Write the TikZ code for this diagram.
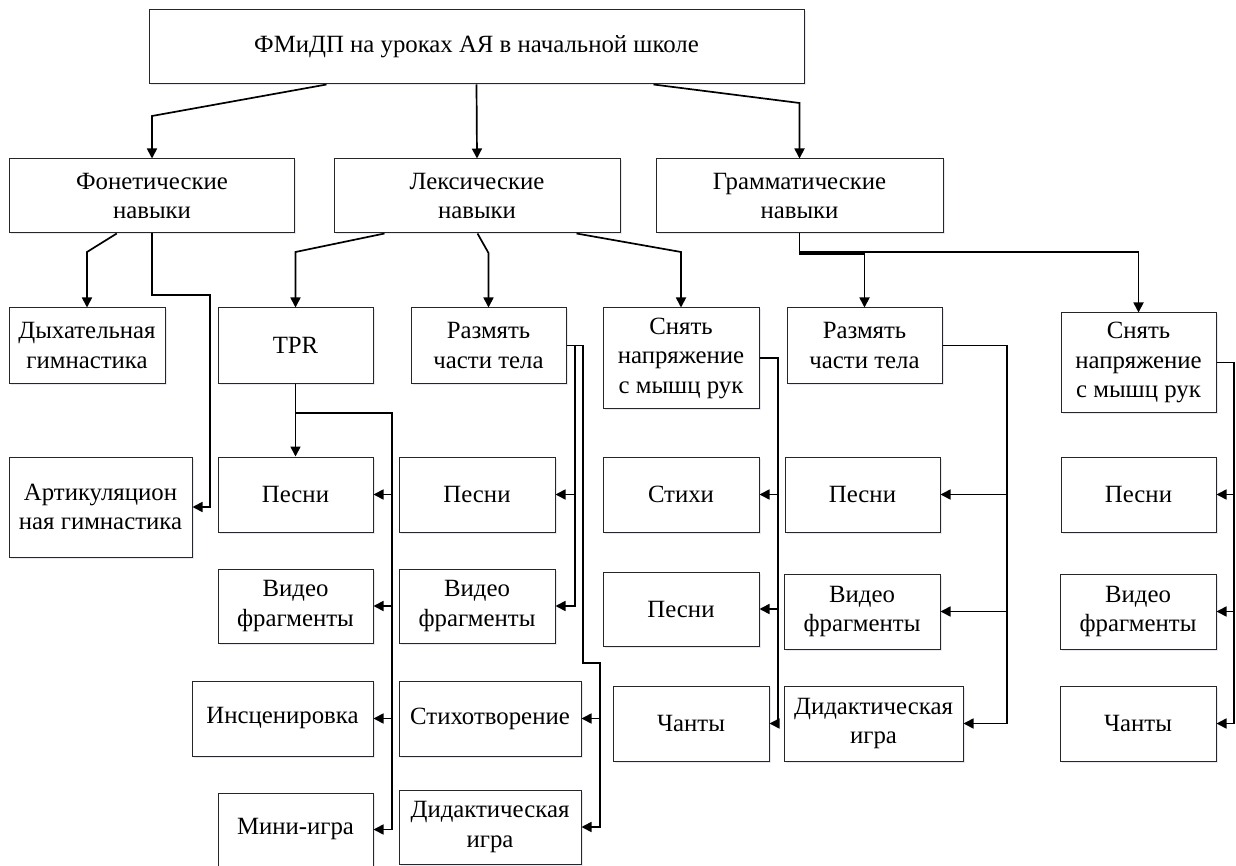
\documentclass[tikz,border=0pt]{standalone}
\usepackage{fontspec}
\setmainfont{Liberation Serif}
\usetikzlibrary{arrows.meta,shadows}
\tikzset{
  box/.style={draw=black!85, line width=1pt, align=center, inner sep=0pt, fill=white,
    font=\fontsize{24.8}{29.5}\selectfont, minimum height=74pt, minimum width=155pt,
    drop shadow={shadow xshift=1.5pt, shadow yshift=-1.5pt, opacity=0.12, fill=blue!40!gray}},
  arr/.style={draw=black, line width=1.7pt, -{Triangle[length=10pt,width=10pt]}},
  ln/.style={draw=black, line width=1.7pt}
}
\begin{document}
\begin{tikzpicture}[x=1pt,y=-1pt]
\useasboundingbox (0,0) rectangle (1236,866);
% level 0
\node[box, minimum width=655pt] (top) at (476.5,47) {ФМиДП на уроках АЯ в начальной школе};
% level 1
\node[box, minimum width=285.5pt] (fon) at (152,196) {Фонетические\\навыки};
\node[box, minimum width=286pt] (lex) at (477,196) {Лексические\\навыки};
\node[box, minimum width=287pt] (gram) at (799.5,196) {Грамматические\\навыки};
% level 2
\node[box, minimum width=156pt, minimum height=75pt] (dyh) at (87,345.5) {Дыхательная\\гимнастика};
\node[box, minimum height=75pt] (tpr) at (295.5,345.5) {TPR};
\node[box, minimum height=75pt] (raz1) at (488.5,345.5) {Размять\\части тела};
\node[box, minimum width=156pt, minimum height=100pt] (sn1) at (681,358) {Снять\\напряжение\\с мышц рук};
\node[box, minimum height=75pt] (raz2) at (864.5,345.5) {Размять\\части тела};
\node[box, minimum height=99pt] (sn2) at (1138.5,362.5) {Снять\\напряжение\\с мышц рук};
% level 3
\node[box, minimum width=183pt, minimum height=100pt] (art) at (100.5,507) {Артикуляцион\\ная гимнастика};
\node[box, minimum height=75pt] (pes1) at (295.5,494.5) {Песни};
\node[box, minimum width=156pt, minimum height=75pt] (pes2) at (477,494.5) {Песни};
\node[box, minimum width=156pt, minimum height=75pt] (stihi) at (681,494.5) {Стихи};
\node[box, minimum height=75pt] (pes3) at (862.5,494.5) {Песни};
\node[box, minimum height=75pt] (pes4) at (1138.5,494.5) {Песни};
% level 4
\node[box] (vid1) at (295.5,606) {Видео\\фрагменты};
\node[box, minimum width=156pt] (vid2) at (477,606) {Видео\\фрагменты};
\node[box, minimum width=156pt] (pes5) at (681,609) {Песни};
\node[box, minimum width=156pt, minimum height=75pt] (vid3) at (862,611.5) {Видео\\фрагменты};
\node[box, minimum width=156pt, minimum height=75pt] (vid4) at (1138,611.5) {Видео\\фрагменты};
% level 5
\node[box, minimum width=181pt, minimum height=75pt] (insc) at (282.5,718.5) {Инсценировка};
\node[box, minimum width=182pt, minimum height=75pt] (stv) at (490,718.5) {Стихотворение};
\node[box, minimum width=156pt, minimum height=75pt] (ch1) at (691,723.5) {Чанты};
\node[box, minimum width=179pt, minimum height=75pt] (did2) at (873.5,723.5) {Дидактическая\\игра};
\node[box, minimum width=156pt, minimum height=75pt] (ch2) at (1138,723.5) {Чанты};
% level 6
\node[box, minimum height=73pt] (mini) at (295.5,829.5) {Мини-игра};
\node[box, minimum width=182pt] (did1) at (490,827) {Дидактическая\\игра};

% helper coordinates
\coordinate (c1) at (152,116);
\coordinate (c2) at (799.5,103);
\coordinate (f1) at (87,252);
\coordinate (f2) at (152,295);
\coordinate (f3) at (210,295);
\coordinate (l1) at (295.5,252);
\coordinate (l2) at (488.5,253);
\coordinate (l3) at (681,252);
\coordinate (g1) at (799.5,252);
\coordinate (g2) at (1138.5,252);
\coordinate (g3) at (799.5,254);
\coordinate (g4) at (864.5,254);
\coordinate (tb) at (392,413);
\coordinate (r1a) at (575,345.5);
\coordinate (r1b) at (583,345.5);
\coordinate (r1c) at (583,663);
\coordinate (r1d) at (600,663);
\coordinate (s1) at (778,358);
\coordinate (r2) at (1007,345.5);
\coordinate (s2) at (1234,362.5);

% top level
\draw[arr] ([xshift=178pt]top.south west) -- (c1) -- (fon.north);
\draw[arr] (top.south) -- (lex.north);
\draw[arr] ([xshift=-151pt]top.south east) -- (c2) -- (gram.north);
% phonetic
\draw[arr] ([xshift=108pt]fon.south west) -- (f1) -- (dyh.north);
\draw[arr] (fon.south) -- (f2) -- (f3) |- (art.east);
% lexical
\draw[arr] ([xshift=51pt]lex.south west) -- (l1) -- (tpr.north);
\draw[arr] ([xshift=144pt]lex.south west) -- (l2) -- (raz1.north);
\draw[arr] ([xshift=243pt]lex.south west) -- (l3) -- (sn1.north);
% grammatical
\draw[arr] (gram.south) -- (g1) -- (g2) -- (sn2.north);
\draw[arr] (gram.south) -- (g3) -- (g4) -- (raz2.north);
% TPR
\draw[arr] (tpr.south) -- (pes1.north);
\foreach \n in {pes1,vid1,insc,mini} \draw[arr] (tpr.south) |- (tb) |- (\n.east);
% Razmyat 1
\foreach \n in {pes2,vid2} \draw[arr] (raz1.east) -- (r1a) |- (\n.east);
\foreach \n in {stv,did1} \draw[arr] (raz1.east) -- (r1b) -- (r1c) -- (r1d) |- (\n.east);
% Snyat 1
\foreach \n in {stihi,pes5,ch1} \draw[arr] (sn1.east) -- (s1) |- (\n.east);
% Razmyat 2
\foreach \n in {pes3,vid3,did2} \draw[arr] (raz2.east) -- (r2) |- (\n.east);
% Snyat 2
\foreach \n in {pes4,vid4,ch2} \draw[arr] (sn2.east) -- (s2) |- (\n.east);
\end{tikzpicture}
\end{document}
